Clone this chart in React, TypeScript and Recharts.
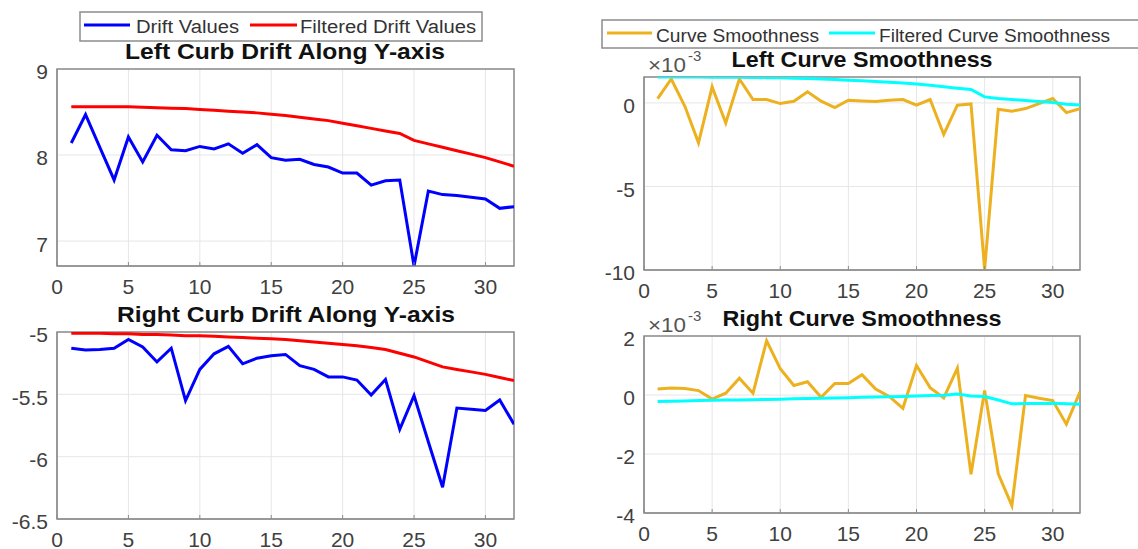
import { LineChart, Line, XAxis, YAxis, CartesianGrid, ReferenceArea } from 'recharts'

// sample index (1..32)
const sampleIdx = [
  1, 2, 3, 4, 5, 6, 7, 8, 9, 10, 11, 12, 13, 14, 15, 16,
  17, 18, 19, 20, 21, 22, 23, 24, 25, 26, 27, 28, 29, 30, 31, 32,
]
const xTicks = [0, 5, 10, 15, 20, 25, 30]

const leftDrift = [
  8.14, 8.47, 8.09, 7.71, 8.21, 7.92, 8.23, 8.06, 8.05, 8.1, 8.07, 8.13, 8.02, 8.12, 7.97, 7.94,
  7.95, 7.89, 7.86, 7.79, 7.79, 7.65, 7.7, 7.71, 6.71, 7.58, 7.54, 7.53, 7.51, 7.49, 7.38, 7.4,
]
const leftDriftFiltered = [
  8.56, 8.56, 8.56, 8.56, 8.56, 8.555, 8.55, 8.545, 8.54, 8.53, 8.52, 8.51, 8.5, 8.49, 8.475, 8.46,
  8.44, 8.42, 8.4, 8.37, 8.34, 8.31, 8.28, 8.25, 8.17, 8.13, 8.09, 8.05, 8.01, 7.97, 7.92, 7.87,
]
const rightDrift = [
  -5.13, -5.145, -5.14, -5.13, -5.06, -5.12, -5.24, -5.13, -5.55, -5.3, -5.175, -5.115, -5.255, -5.21, -5.19, -5.18,
  -5.27, -5.3, -5.36, -5.36, -5.385, -5.505, -5.38, -5.78, -5.51, -5.88, -6.245, -5.61, -5.62, -5.63, -5.545, -5.74,
]
const rightDriftFiltered = [
  -5.01, -5.01, -5.01, -5.015, -5.015, -5.02, -5.02, -5.025, -5.03, -5.03, -5.035, -5.04, -5.045, -5.05, -5.055, -5.06,
  -5.07, -5.08, -5.09, -5.1, -5.11, -5.125, -5.14, -5.17, -5.2, -5.24, -5.28, -5.3, -5.32, -5.34, -5.365, -5.39,
]
// smoothness values in units of 1e-3
const leftSmooth = [
  0.26, 1.43, -0.2, -2.39, 0.96, -1.2, 1.43, 0.2, 0.2, -0.04, 0.1, 0.66, 0.1, -0.28, 0.16, 0.12,
  0.08, 0.16, 0.2, -0.14, 0.2, -1.89, -0.14, -0.06, -9.96, -0.38, -0.5, -0.34, -0.04, 0.26, -0.58, -0.34,
]
const leftSmoothFiltered = [
  1.55, 1.55, 1.55, 1.55, 1.54, 1.54, 1.53, 1.52, 1.51, 1.5, 1.48, 1.46, 1.43, 1.4, 1.36, 1.32,
  1.28, 1.24, 1.19, 1.13, 1.06, 0.97, 0.88, 0.8, 0.36, 0.26, 0.2, 0.14, 0.08, 0.02, -0.08, -0.12,
]
const rightSmooth = [
  0.2, 0.24, 0.22, 0.15, -0.14, 0.06, 0.57, 0.06, 1.84, 0.89, 0.32, 0.45, -0.08, 0.39, 0.39, 0.69,
  0.2, -0.05, -0.45, 1.0, 0.25, -0.1, 0.91, -2.69, 0.15, -2.67, -3.75, -0.02, -0.11, -0.19, -0.99, 0.11,
]
const rightSmoothFiltered = [
  -0.22, -0.21, -0.2, -0.19, -0.18, -0.17, -0.17, -0.16, -0.15, -0.14, -0.13, -0.12, -0.11, -0.1, -0.09, -0.08,
  -0.07, -0.06, -0.05, -0.03, -0.02, -0.01, 0.03, -0.03, -0.05, -0.17, -0.3, -0.29, -0.29, -0.28, -0.3, -0.31,
]

const BLUE = '#0000ff'
const RED = '#ff0000'
const ORANGE = '#edb120'
const CYAN = '#00ffff'
const AXIS = '#8c8c8c'

interface Rect { l: number; t: number; r: number; b: number }

interface PanelProps {
  rect: Rect
  a: number[]
  b: number[]
  colorA: string
  colorB: string
  domain: [number, number]
  yTicks: number[]
}

function Panel({ rect, a, b, colorA, colorB, domain, yTicks }: PanelProps) {
  const yw = 50
  const mt = 10
  const mr = 12
  const xh = 36
  const cl = rect.l - yw
  const ct = rect.t - mt
  const W = rect.r - cl + mr
  const H = rect.b - ct + xh
  const rows = sampleIdx.map((x, i) => ({ x, a: a[i], b: b[i] }))
  return (
    <div style={{ position: 'absolute', left: cl, top: ct }}>
      <LineChart width={W} height={H} data={rows} margin={{ top: mt, right: mr, left: 0, bottom: 0 }}>
        <CartesianGrid stroke="#e6e6e6" />
        <XAxis
          dataKey="x"
          type="number"
          domain={[0, 32]}
          ticks={xTicks}
          interval={0}
          allowDataOverflow
          height={xh}
          tickSize={-4}
          tickMargin={17}
          stroke={AXIS}
          tick={{ fill: '#404040', fontSize: 21 }}
        />
        <YAxis
          type="number"
          domain={domain}
          ticks={yTicks}
          interval={0}
          allowDataOverflow
          width={yw}
          tickSize={0}
          tickMargin={9}
          stroke={AXIS}
          tick={{ fill: '#404040', fontSize: 21, dy: 3 }}
        />
        <ReferenceArea x1={0} x2={32} y1={domain[0]} y2={domain[1]} fill="none" stroke={AXIS} strokeWidth={1.5} />
        <Line dataKey="a" stroke={colorA} strokeWidth={3} dot={false} isAnimationActive={false} />
        <Line dataKey="b" stroke={colorB} strokeWidth={3} dot={false} isAnimationActive={false} />
      </LineChart>
    </div>
  )
}

function Overlay() {
  const title = { fontSize: 22, fontWeight: 700, fill: '#111', textAnchor: 'middle' as const }
  const leg = { fontSize: 18, fill: '#333' }
  return (
    <svg width={1138} height={549} style={{ position: 'absolute', left: 0, top: 0, pointerEvents: 'none' }}>
      {/* legend, left */}
      <rect x={80} y={12} width={402} height={29} fill="#fff" stroke={AXIS} strokeWidth={1.5} />
      <line x1={84} x2={130} y1={25} y2={25} stroke={BLUE} strokeWidth={3} />
      <text x={136} y={33} {...leg} textLength={103} lengthAdjust="spacingAndGlyphs">Drift Values</text>
      <line x1={250} x2={297} y1={25} y2={25} stroke={RED} strokeWidth={3} />
      <text x={300} y={33} {...leg} textLength={176} lengthAdjust="spacingAndGlyphs">Filtered Drift Values</text>

      {/* legend, right */}
      <rect x={602} y={20} width={545} height={28} fill="#fff" stroke={AXIS} strokeWidth={1.5} />
      <line x1={607} x2={652} y1={33} y2={33} stroke={ORANGE} strokeWidth={3} />
      <text x={656} y={42} {...leg} textLength={163} lengthAdjust="spacingAndGlyphs">Curve Smoothness</text>
      <line x1={829} x2={875} y1={33} y2={33} stroke={CYAN} strokeWidth={3} />
      <text x={879} y={42} {...leg} textLength={231} lengthAdjust="spacingAndGlyphs">Filtered Curve Smoothness</text>

      {/* titles */}
      <text x={285} y={59} {...title} textLength={320} lengthAdjust="spacingAndGlyphs">Left Curb Drift Along Y-axis</text>
      <text x={286} y={322} {...title} textLength={338} lengthAdjust="spacingAndGlyphs">Right Curb Drift Along Y-axis</text>
      <text x={862} y={67} {...title} textLength={261} lengthAdjust="spacingAndGlyphs">Left Curve Smoothness</text>
      <text x={862} y={326} {...title} textLength={279} lengthAdjust="spacingAndGlyphs">Right Curve Smoothness</text>

      {/* exponent labels */}
      <text x={648} y={72} fontSize={20} fill="#555" textLength={38} lengthAdjust="spacingAndGlyphs">×10</text>
      <text x={688} y={61} fontSize={15} fill="#555">-3</text>
      <text x={648} y={332} fontSize={20} fill="#555" textLength={38} lengthAdjust="spacingAndGlyphs">×10</text>
      <text x={688} y={321} fontSize={15} fill="#555">-3</text>
    </svg>
  )
}

export default function App() {
  return (
    <div
      style={{
        position: 'absolute',
        left: 0,
        top: 0,
        width: 1138,
        height: 549,
        background: '#fff',
        overflow: 'hidden',
        fontFamily: '"Liberation Sans", Arial, sans-serif',
      }}
    >
      <Panel
        rect={{ l: 57, t: 69, r: 514, b: 266 }}
        a={leftDrift}
        b={leftDriftFiltered}
        colorA={BLUE}
        colorB={RED}
        domain={[6.71, 9]}
        yTicks={[7, 8, 9]}
      />
      <Panel
        rect={{ l: 57, t: 332, r: 514, b: 519 }}
        a={rightDrift}
        b={rightDriftFiltered}
        colorA={BLUE}
        colorB={RED}
        domain={[-6.5, -5]}
        yTicks={[-6.5, -6, -5.5, -5]}
      />
      <Panel
        rect={{ l: 644, t: 77, r: 1080, b: 270 }}
        a={leftSmooth}
        b={leftSmoothFiltered}
        colorA={ORANGE}
        colorB={CYAN}
        domain={[-10, 1.55]}
        yTicks={[-10, -5, 0]}
      />
      <Panel
        rect={{ l: 644, t: 336, r: 1080, b: 513 }}
        a={rightSmooth}
        b={rightSmoothFiltered}
        colorA={ORANGE}
        colorB={CYAN}
        domain={[-4, 2]}
        yTicks={[-4, -2, 0, 2]}
      />
      <Overlay />
    </div>
  )
}
